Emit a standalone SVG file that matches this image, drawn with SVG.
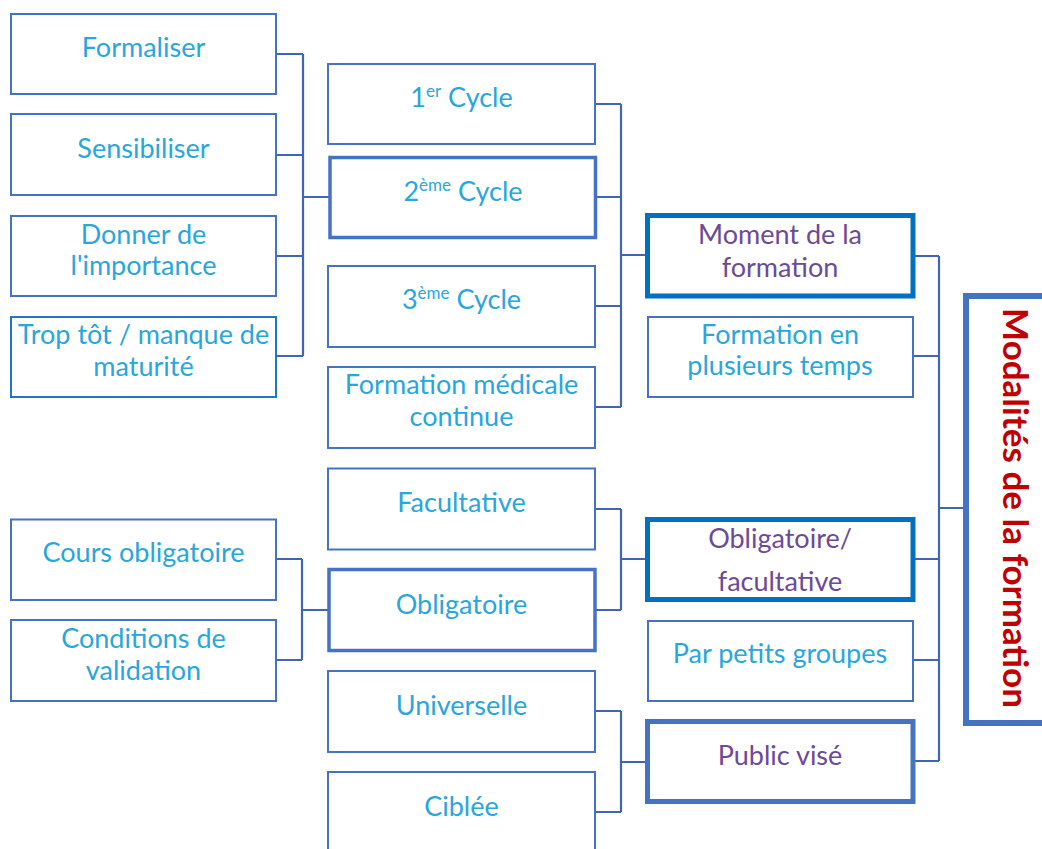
<svg xmlns="http://www.w3.org/2000/svg" width="1042" height="849" viewBox="0 0 1042 849">
<style>
  .box { fill: #ffffff; stroke: #4472c4; stroke-width: 2; }
  .thick { fill: #ffffff; stroke: #4472c4; stroke-width: 3.5; }
  .accent { fill: #ffffff; stroke: #0070c0; stroke-width: 5; }
  .main { fill: #ffffff; stroke: #4472c4; stroke-width: 6; }
  .t { font-family: Lato, "Open Sans", "Liberation Sans", sans-serif; font-size: 27px; fill: #29a6dc; text-anchor: middle; }
  .p { fill: #6c4a98; }
  .title { font-family: Lato, "Open Sans", "Liberation Sans", sans-serif; font-size: 35px; font-weight: bold; fill: #c00000; text-anchor: middle; }
  .c { fill: none; stroke: #3f66b4; stroke-width: 2.2; }
</style>
<rect width="1042" height="849" fill="#ffffff"/>

<g id="connectors">
  <path class="c" d="M276 54H303M276 155H303M276 256H303M276 356H303M303 54V356M303 197H329"/>
  <path class="c" d="M595 104H621M595 197H621M595 306H621M595 407H621M621 104V407M621 255H647"/>
  <path class="c" d="M276 559H302M276 660H302M302 559V660M302 610H329"/>
  <path class="c" d="M595 509H621M595 610H621M621 509V610M621 559H647"/>
  <path class="c" d="M595 711H621M595 812H621M621 711V812M621 762H647"/>
  <path class="c" d="M914 256H939M914 356H939M914 559H939M914 660H939M914 761H939M939 256V761M939 508H966"/>
</g>

<g id="formaliser"><rect class="box" x="11" y="14" width="265" height="80"/><text class="t" x="143.5" y="57">Formaliser</text></g>
<g id="sensibiliser"><rect class="box" x="11" y="114" width="265" height="81"/><text class="t" x="143.5" y="158">Sensibiliser</text></g>
<g id="donner"><rect class="box" x="11" y="216" width="265" height="80"/><text class="t" x="143.5" y="244">Donner de</text><text class="t" x="143.5" y="275">l'importance</text></g>
<g id="trop-tot"><rect class="box" x="11" y="317" width="265" height="80" style="stroke:#1f78c4"/><text class="t" x="143.5" y="344">Trop tôt / manque de</text><text class="t" x="143.5" y="376">maturité</text></g>

<g id="cycle1"><rect class="box" x="328" y="64" width="267" height="80"/><text class="t" x="461.5" y="107">1<tspan font-size="17" dy="-10">er</tspan><tspan dy="10"> Cycle</tspan></text></g>
<g id="cycle2"><rect class="thick" x="330" y="157.5" width="265.5" height="80"/><text class="t" x="463" y="201">2<tspan font-size="17" dy="-10">ème</tspan><tspan dy="10"> Cycle</tspan></text></g>
<g id="cycle3"><rect class="box" x="328" y="266" width="267" height="81"/><text class="t" x="461.5" y="309">3<tspan font-size="17" dy="-10">ème</tspan><tspan dy="10"> Cycle</tspan></text></g>
<g id="fmc"><rect class="box" x="328" y="367" width="267" height="81"/><text class="t" x="461.5" y="394">Formation médicale</text><text class="t" x="461.5" y="426">continue</text></g>

<g id="facultative"><rect class="box" x="328" y="468.5" width="267" height="81"/><text class="t" x="461.5" y="512">Facultative</text></g>
<g id="obligatoire"><rect class="thick" x="329" y="569.5" width="266" height="81"/><text class="t" x="461.5" y="614">Obligatoire</text></g>
<g id="universelle"><rect class="box" x="328" y="671" width="267" height="81"/><text class="t" x="461.5" y="715">Universelle</text></g>
<g id="ciblee"><rect class="box" x="328" y="772" width="267" height="90"/><text class="t" x="461.5" y="816">Ciblée</text></g>

<g id="cours"><rect class="box" x="11" y="519.5" width="265" height="80.5"/><text class="t" x="143.5" y="562">Cours obligatoire</text></g>
<g id="conditions"><rect class="box" x="11" y="620" width="265" height="81"/><text class="t" x="143.5" y="648">Conditions de</text><text class="t" x="143.5" y="680">validation</text></g>

<g id="moment"><rect class="accent" x="647.5" y="215.5" width="265.5" height="80.5"/><text class="t p" x="780" y="244">Moment de la</text><text class="t p" x="780" y="277">formation</text></g>
<g id="plusieurs-temps"><rect class="box" x="648" y="317" width="265" height="80"/><text class="t" x="780" y="344">Formation en</text><text class="t" x="780" y="375">plusieurs temps</text></g>
<g id="oblig-fac"><rect class="accent" x="647.5" y="519.5" width="265.5" height="80"/><text class="t p" x="780" y="548">Obligatoire/</text><text class="t p" x="780" y="591">facultative</text></g>
<g id="petits-groupes"><rect class="box" x="648" y="621" width="265" height="80"/><text class="t" x="780" y="663">Par petits groupes</text></g>
<g id="public"><rect class="main" x="647.5" y="721.5" width="265.5" height="80" style="stroke-width:5"/><text class="t p" x="780" y="765">Public visé</text></g>

<g id="modalites"><rect class="main" x="966" y="296" width="90" height="427"/><text class="title" transform="translate(1003,508) rotate(90)">Modalités de la formation</text></g>
</svg>
